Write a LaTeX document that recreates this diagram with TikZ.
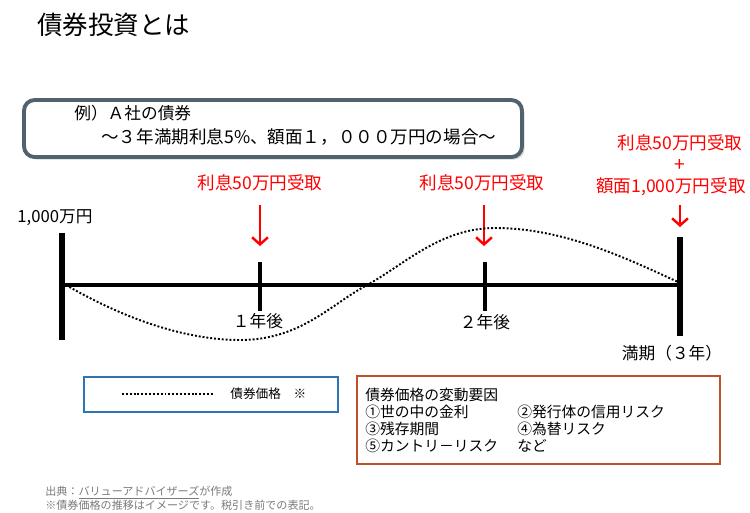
\documentclass[tikz,border=0pt]{standalone}
\usepackage{fontspec}
\setmainfont{Noto Sans CJK JP}
\usepackage{tikz}
\usetikzlibrary{positioning,arrows.meta,shadows}
\usepackage{xcolor}
\definecolor{boxgray}{HTML}{50626E}
\definecolor{legblue}{HTML}{2E75B6}
\definecolor{legbrown}{HTML}{C0502A}
\definecolor{notegray}{HTML}{7A7A7A}

\begin{document}
\begin{tikzpicture}[x=0.02cm, y=-0.02cm,
    txt/.style={inner sep=0pt, font=\fontsize{9.5}{11}\selectfont},
    redlbl/.style={txt, text=red, font=\fontsize{10}{12}\selectfont},
    factor/.style={txt, anchor=west, font=\fontsize{8.4}{9}\selectfont},
    note/.style={txt, anchor=west, text=notegray, font=\fontsize{6.3}{7}\selectfont},
    paybar/.style={red, line width=1.4pt, -{Straight Barb[length=4pt,width=9pt]}},
    endbar/.style={line width=3.4pt},
    tickbar/.style={line width=2pt},
    pricecurve/.style={line width=1.1pt, dash pattern=on 1.1pt off 1.1pt}]
        \useasboundingbox (0,0) rectangle (750,512);

        % Title and example box
        \node[txt, anchor=west, font=\fontsize{14.5}{16}\selectfont] (title) at (37,25) {債券投資とは};
        \node[draw=boxgray, line width=2.2pt, rounded corners=6pt, fill=white,
              minimum width=9.96cm, minimum height=1.14cm,
              drop shadow={opacity=0.3, shadow xshift=1.5pt, shadow yshift=-1.5pt}] (exbox) at (273,128.5) {};
        \node[txt, anchor=west] (ex1) at (74,113) {例）Ａ社の債券};
        \node[txt, anchor=west, font=\fontsize{10}{12}\selectfont] (ex2) at (101,137) {～３年満期利息5\%、額面１，０００万円の場合～};

        % Cash flow labels
        \node[redlbl] (int1) at (260,183) {利息50万円受取};
        \node[redlbl] (int2) at (482,183) {利息50万円受取};
        \node[redlbl] (int3) at (680,143) {利息50万円受取};
        \node[redlbl, font=\fontsize{11}{11}\selectfont] (plus) at (680,165) {+};
        \node[redlbl] (face) at (671,187) {額面1,000万円受取};

        % Arrows
        \coordinate (a1s) at (260,205); \coordinate (a1e) at (260,246);
        \coordinate (a2s) at (484,205); \coordinate (a2e) at (484,246);
        \coordinate (a3s) at (680,205); \coordinate (a3e) at (680,227);
        \draw[paybar] (a1s) -- (a1e);
        \draw[paybar] (a2s) -- (a2e);
        \draw[paybar] (a3s) -- (a3e);

        % Time line
        \coordinate (t0) at (62,285);
        \coordinate (t1) at (260,285);
        \coordinate (t2) at (485,285);
        \coordinate (t3) at (680,285);
        \draw[line width=1.8pt] (t0) -- (t3);
        \draw[endbar] (t0) ++(0,-52) -- ++(0,107);
        \draw[endbar] (t3) ++(0,-48) -- ++(0,99);
        \draw[tickbar] (t1) ++(0,-23) -- ++(0,49);
        \draw[tickbar] (t2) ++(0,-23) -- ++(0,49);

        \node[txt] (face0) at (55,218) {1,000万円};
        \node[txt] (y1) at (258,321) {１年後};
        \node[txt] (y2) at (485,322) {２年後};
        \node[txt] (y3) at (672,353) {満期（３年）};

        % Bond price
        \coordinate (cs) at (66,285);
        \coordinate (cmin) at (240,340);
        \coordinate (cx) at (367,285);
        \coordinate (cpeak) at (495,228);
        \coordinate (ce) at (678,282);
        \draw[pricecurve] (cs) .. controls (130,322) and (190,340) .. (cmin)
            .. controls (300,340) and (330,305) .. (cx)
            .. controls (404,265) and (440,228) .. (cpeak)
            .. controls (560,228) and (620,255) .. (ce);

        % Legends
        \node[draw=legblue, line width=1.2pt, minimum width=5.08cm, minimum height=0.7cm] (leg1) at (211,394.5) {};
        \coordinate (d1) at (122,394); \coordinate (d2) at (213,394);
        \draw[pricecurve] (d1) -- (d2);
        \node[txt, anchor=west, font=\fontsize{7.2}{8}\selectfont] (legtxt) at (230,394) {債券価格　※};

        \node[draw=legbrown, line width=1.2pt, minimum width=7.26cm, minimum height=1.76cm] (leg2) at (538.5,420) {};
        \node[factor] (f0) at (365,395) {債券価格の変動要因};
        \node[factor] (f1) at (365,412) {①世の中の金利};
        \node[factor] (f2) at (517,412) {②発行体の信用リスク};
        \node[factor] (f3) at (365,429) {③残存期間};
        \node[factor] (f4) at (517,429) {④為替リスク};
        \node[factor] (f5) at (365,446) {⑤カントリ－リスク};
        \node[factor] (f6) at (517,446) {など};

        % Notes
        \node[note] (src) at (45,493) {出典：\underline{バリューアドバイザーズ}が作成};
        \node[note] (memo) at (45,505) {※債券価格の推移はイメージです。税引き前での表記。};
    \end{tikzpicture}
\end{document}
